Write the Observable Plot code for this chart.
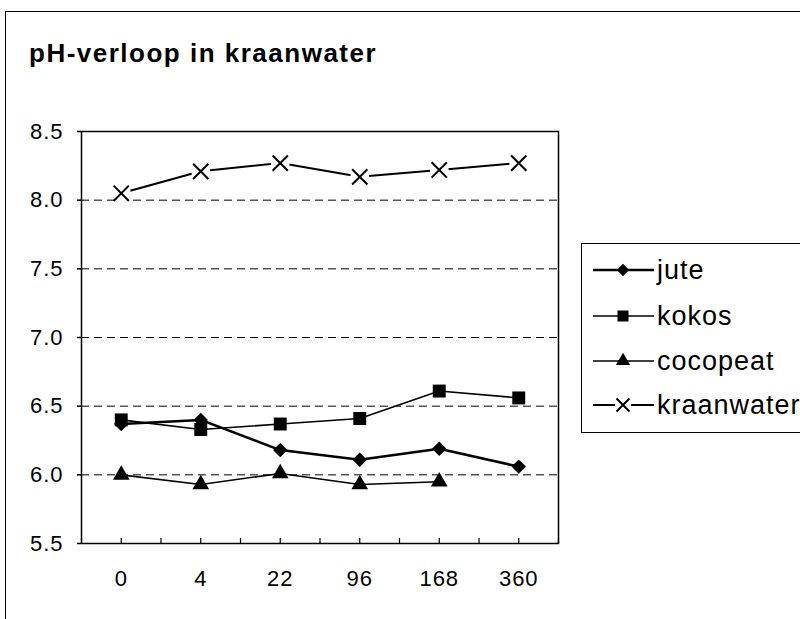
<!DOCTYPE html>
<html>
<head>
<meta charset="utf-8">
<script src="https://cdn.jsdelivr.net/npm/d3@7"></script>
<script src="https://cdn.jsdelivr.net/npm/@observablehq/plot@0.6"></script>
<style>
  html, body { margin: 0; padding: 0; background: #fff; overflow: hidden; }
  body { width: 800px; height: 619px; position: relative; font-family: "Liberation Sans", Arial, sans-serif; color: #000; }
  #outer { position: absolute; left: 5px; top: 11px; width: 900px; height: 700px; border: 1px solid #000; box-sizing: border-box; }
  #title { position: absolute; left: 29px; top: 40px; font-size: 26px; line-height: 26px; font-weight: bold; letter-spacing: 1.5px; white-space: nowrap; }
  #chart { position: absolute; left: 0; top: 0; }
  #legend { position: absolute; left: 581px; top: 243px; width: 300px; height: 190px; border: 1px solid #000; box-sizing: border-box; background: #fff; }
  #legend svg { position: absolute; left: 0; top: 0; }
</style>
</head>
<body>
<div id="outer"></div>
<div id="title">pH-verloop in kraanwater</div>
<div id="chart"></div>
<div id="legend"></div>
<script>
// ---- data ----
const categories = ["0", "4", "22", "96", "168", "360"];
const jute       = [6.37, 6.40, 6.18, 6.11, 6.19, 6.06];
const kokos      = [6.40, 6.33, 6.37, 6.41, 6.61, 6.56];
const cocopeat   = [6.00, 5.93, 6.01, 5.93, 5.95, null];
const kraanwater = [8.05, 8.21, 8.27, 8.17, 8.22, 8.27];
const seriesNames = ["jute", "kokos", "cocopeat", "kraanwater"];
const yTicks = [5.5, 6.0, 6.5, 7.0, 7.5, 8.0, 8.5];
const gridValues = [6.0, 6.5, 7.0, 7.5, 8.0];

// ---- styles per series ----
const styles = {
  jute:       {symbol: "diamond2", r: 6.5, lineWidth: 2.5, filled: true},
  kokos:      {symbol: "square",   r: 7.3, lineWidth: 1.6, filled: true},
  cocopeat:   {symbol: "triangle", r: 6.2, lineWidth: 1.6, filled: true},
  kraanwater: {symbol: "times",    r: 7,   lineWidth: 2,   filled: false}
};
const valuesBy = {jute, kokos, cocopeat, kraanwater};

const rows = seriesNames.flatMap(name =>
  categories.map((c, i) => ({series: name, i, cat: c, v: valuesBy[name][i]}))
).filter(d => d.v != null);

const minorTicks = d3.range(-0.5, categories.length, 0.5);

const lineMarks = seriesNames.map(name => Plot.line(rows.filter(d => d.series === name), {
  x: "i", y: "v", stroke: "black", strokeWidth: styles[name].lineWidth
}));

const dotMarks = seriesNames.flatMap(name => {
  const st = styles[name];
  const data = rows.filter(d => d.series === name);
  if (st.filled) {
    return [Plot.dot(data, {x: "i", y: "v", symbol: st.symbol, r: st.r, fill: "black", stroke: "none"})];
  }
  return [
    Plot.dot(data, {x: "i", y: "v", symbol: "circle", r: 9.5, fill: "white", stroke: "none"}),
    Plot.dot(data, {x: "i", y: "v", symbol: st.symbol, r: st.r, stroke: "black", strokeWidth: 2, fill: "none"})
  ];
});

const chart = Plot.plot({
  width: 800,
  height: 619,
  marginTop: 131,
  marginBottom: 76,
  marginLeft: 81,
  marginRight: 242,
  style: {fontFamily: "'Liberation Sans', Arial, sans-serif", fontSize: "22px", color: "black", background: "transparent", letterSpacing: "1px"},
  x: {type: "linear", domain: [-0.5, categories.length - 0.5], axis: null},
  y: {domain: [5.5, 8.5], axis: null},
  marks: [
    Plot.ruleY(gridValues, {stroke: "black", strokeWidth: 1, strokeDasharray: "8,5"}),
    Plot.frame({stroke: "black", strokeWidth: 1.5}),
    Plot.axisY({ticks: yTicks, tickSize: 4, tickPadding: 14, tickFormat: d => d.toFixed(1), fontSize: 22, stroke: "black", strokeWidth: 1.5, label: null}),
    Plot.axisX({ticks: minorTicks, tickSize: -5, fill: "none", stroke: "black", strokeWidth: 1.2, label: null}),
    Plot.axisX({ticks: categories.map((_, i) => i), tickSize: 0, tickPadding: 27, tickFormat: i => categories[i], fontSize: 22, label: null}),
    ...lineMarks,
    ...dotMarks
  ]
});
document.getElementById("chart").appendChild(chart);

// ---- legend ----
const lg = d3.select("#legend").append("svg").attr("width", 300).attr("height", 190);
const rowY = [26, 72, 117, 161];
seriesNames.forEach((name, k) => {
  const st = styles[name];
  const g = lg.append("g").attr("transform", `translate(0,${rowY[k]})`);
  g.append("line").attr("x1", 11).attr("x2", 72).attr("y1", 0).attr("y2", 0)
    .attr("stroke", "black").attr("stroke-width", name === "jute" ? 2.5 : (name === "kraanwater" ? 2 : 1.6));
  const symMap = {diamond2: d3.symbolDiamond2, square: d3.symbolSquare, triangle: d3.symbolTriangle, times: d3.symbolTimes};
  const size = Math.PI * (st.r * 0.85) ** 2;
  if (!st.filled) {
    g.append("circle").attr("cx", 41).attr("r", 8).attr("fill", "white");
  }
  g.append("path").attr("transform", "translate(41,0)")
    .attr("d", d3.symbol(symMap[st.symbol], size)())
    .attr("fill", st.filled ? "black" : "none")
    .attr("stroke", st.filled ? "none" : "black")
    .attr("stroke-width", 2);
  g.append("text").attr("x", 75).attr("y", 0).attr("dy", "0.35em")
    .attr("font-family", "'Liberation Sans', Arial, sans-serif")
    .attr("font-size", 27).attr("letter-spacing", "1px")
    .text(name);
});
</script>
</body>
</html>
